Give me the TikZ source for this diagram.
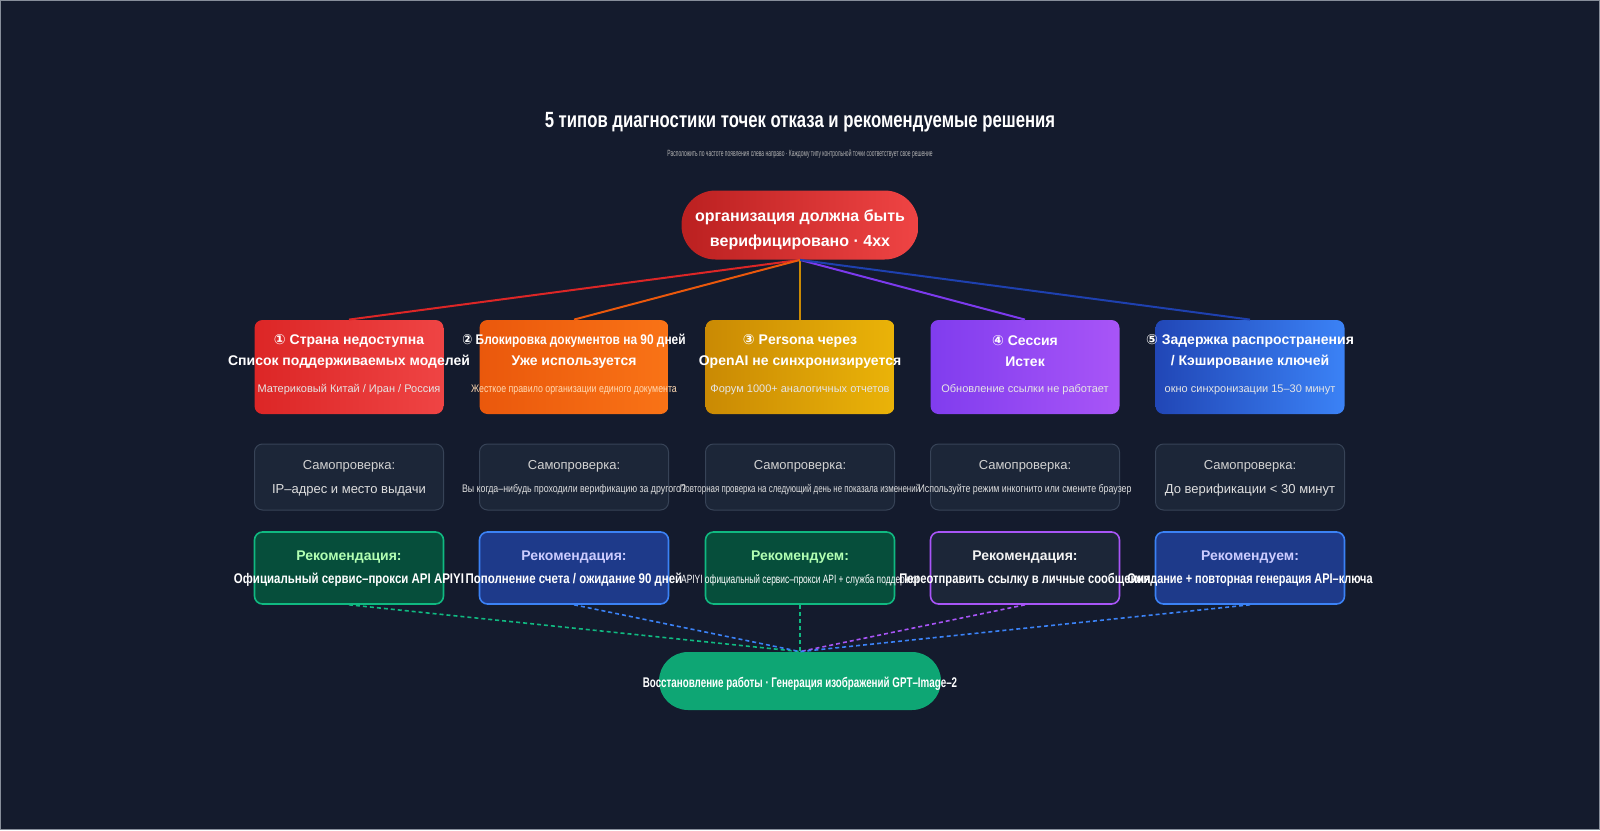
\documentclass[tikz,border=0pt]{standalone}
\usepackage{fontspec}
\setmainfont{Liberation Sans}
\newfontfamily\sym{DejaVu Sans}
\begin{document}
\begin{tikzpicture}[x=0.5pt,y=-0.5pt,
 box/.style={rounded corners=4pt,minimum width=94.5pt,inner sep=0pt,draw=none},
 chk/.style={rounded corners=4pt,minimum width=94.5pt,minimum height=33pt,fill=chkbg,draw=chkbd,line width=0.5pt},
 rec/.style={rounded corners=4pt,minimum width=94.5pt,minimum height=36pt,line width=0.8pt},
 hd/.style={text=white,font=\bfseries\fontsize{7}{8}\selectfont,inner sep=0pt},
 sm/.style={text=white!90!black,font=\fontsize{5.5}{6}\selectfont,inner sep=0pt},
 lab/.style={text=gray!35!white,font=\fontsize{6.5}{7}\selectfont,inner sep=0pt},
 cond/.style={font=\fontsize{5.5}{6}\selectfont,inner sep=0pt},
 ln/.style={line width=1pt},
 dl/.style={line width=0.8pt,dash pattern=on 2pt off 1.5pt}]
\definecolor{bg}{HTML}{141B2D}
\definecolor{chkbg}{HTML}{1C2638}
\definecolor{chkbd}{HTML}{374357}
\definecolor{grn}{HTML}{10B981}
\definecolor{blu}{HTML}{3B82F6}
\definecolor{pur}{HTML}{A855F7}
\definecolor{r1}{HTML}{DC2626}\definecolor{r2}{HTML}{EF4444}
\definecolor{o1}{HTML}{EA580C}\definecolor{o2}{HTML}{F97316}
\definecolor{y1}{HTML}{CA8A04}\definecolor{y2}{HTML}{EAB308}
\definecolor{p1}{HTML}{7C3AED}
\definecolor{b1c}{HTML}{1E40AF}
\definecolor{gf}{HTML}{064E3B}
\definecolor{bf}{HTML}{1E3A8A}
\fill[bg] (0,0) rectangle (1600,830);
\draw[chkbd!60,line width=0.5pt] (0.5,0.5) rectangle (1599.5,829.5);
\useasboundingbox (0,0) rectangle (1600,830);
% title
\node[text=white,font=\bfseries\fontsize{11}{12}\selectfont,inner sep=0pt] (title) at (800,122) {\scalebox{0.76}[1]{5 типов диагностики точек отказа и рекомендуемые решения}};
\node[text=gray!60!white,font=\fontsize{4.5}{5}\selectfont,inner sep=0pt] (sub) at (800,154) {\scalebox{0.55}[1]{Расположить по частоте появления слева направо · Каждому типу контрольной точки соответствует свое решение}};
% root
\node[rounded corners=17pt,minimum width=118.5pt,minimum height=34.5pt,inner sep=0pt,left color=r1!85!black,right color=r2] (root) at (800,225) {};
\node[hd,font=\bfseries\fontsize{8}{9}\selectfont] (ra) at (800,217) {организация должна быть};
\node[hd,font=\bfseries\fontsize{8}{9}\selectfont] (rb2) at (800,242) {верифицировано · 4xx};
% row1 boxes
\node[box,minimum height=47pt,left color=r1,right color=r2] (b1) at (349,367) {};
\node[box,minimum height=47pt,left color=o1,right color=o2] (b2) at (574,367) {};
\node[box,minimum height=47pt,left color=y1,right color=y2] (b3) at (800,367) {};
\node[box,minimum height=47pt,left color=p1!90!pur,right color=pur] (b4) at (1025,367) {};
\node[box,minimum height=47pt,left color=b1c!90!blu,right color=blu] (b5) at (1250,367) {};
% row1 texts
\node[hd] (t11) at (349,341) {{\sym ①} Страна недоступна};
\node[hd] (t12) at (349,362) {Список поддерживаемых моделей};
\node[sm] (t13) at (349,390) {Материковый Китай / Иран / Россия};
\node[hd] (t21) at (574,341) {\scalebox{0.85}[1]{{\sym ②} Блокировка документов на 90 дней}};
\node[hd] (t22) at (574,362) {Уже используется};
\node[sm,text=orange!30!white] (t23) at (574,390) {\scalebox{0.8}[1]{Жесткое правило организации единого документа}};
\node[hd] (t31) at (800,341) {{\sym ③} Persona через};
\node[hd] (t32) at (800,362) {OpenAI не синхронизируется};
\node[sm] (t33) at (800,390) {Форум 1000+ аналогичных отчетов};
\node[hd] (t41) at (1025,341) {{\sym ④} Сессия};
\node[hd] (t42) at (1025,362) {Истек};
\node[sm] (t43) at (1025,390) {Обновление ссылки не работает};
\node[hd] (t51) at (1250,341) {{\sym ⑤} Задержка распространения};
\node[hd] (t52) at (1250,362) {/ Кэширование ключей};
\node[sm] (t53) at (1250,390) {окно синхронизации 15–30 минут};
% row2
\foreach \i/\x in {1/349,2/574,3/800,4/1025,5/1250}{
 \node[chk] (c\i) at (\x,477) {};
 \node[lab] (cl\i) at (\x,466) {Самопроверка:};
}
\node[lab,text=gray!25!white] (ct1) at (349,490) {IP–адрес и место выдачи};
\node[cond,text=gray!25!white] (ct2) at (574,490) {\scalebox{0.8}[1]{Вы когда–нибудь проходили верификацию за другого?}};
\node[cond,text=gray!25!white] (ct3) at (800,490) {\scalebox{0.72}[1]{Повторная проверка на следующий день не показала изменений}};
\node[cond,text=gray!25!white] (ct4) at (1025,490) {\scalebox{0.8}[1]{Используйте режим инкогнито или смените браузер}};
\node[lab,text=gray!25!white] (ct5) at (1250,490) {До верификации < 30 минут};
% row3
\node[rec,fill=gf,draw=grn] (d1) at (349,568) {};
\node[rec,fill=bf,draw=blu] (d2) at (574,568) {};
\node[rec,fill=gf,draw=grn] (d3) at (800,568) {};
\node[rec,fill=chkbg,draw=pur] (d4) at (1025,568) {};
\node[rec,fill=bf,draw=blu] (d5) at (1250,568) {};
\node[hd,text=green!30!white] (dl1) at (349,557) {Рекомендация:};
\node[hd,text=blue!20!white] (dl2) at (574,557) {Рекомендация:};
\node[hd,text=green!30!white] (dl3) at (800,557) {Рекомендуем:};
\node[hd,text=gray!10!white] (dl4) at (1025,557) {Рекомендация:};
\node[hd,text=blue!20!white] (dl5) at (1250,557) {Рекомендуем:};
\node[hd] (dt1) at (349,580) {\scalebox{0.82}[1]{Официальный сервис–прокси API APIYI}};
\node[hd] (dt2) at (574,580) {\scalebox{0.82}[1]{Пополнение счета / ожидание 90 дней}};
\node[hd,font=\fontsize{6}{7}\selectfont] (dt3) at (800,580) {\scalebox{0.7}[1]{APIYI официальный сервис–прокси API + служба поддержки}};
\node[hd] (dt4) at (1025,580) {\scalebox{0.8}[1]{Переотправить ссылку в личные сообщения}};
\node[hd] (dt5) at (1250,580) {\scalebox{0.78}[1]{Ожидание + повторная генерация API–ключа}};
% bottom
\node[rounded corners=14.5pt,minimum width=141pt,minimum height=29pt,inner sep=0pt,fill=grn!90!black] (fin) at (800,681) {};
\node[hd] (fint) at (800,684) {\scalebox{0.7}[1]{Восстановление работы · Генерация изображений GPT–Image–2}};
% connectors
\coordinate (rb) at (root.south);
\draw[ln,r1] (rb) -- (b1.north);
\draw[ln,o1] (rb) -- (b2.north);
\draw[ln,y1] (rb) -- (b3.north);
\draw[ln,p1] (rb) -- (b4.north);
\draw[ln,b1c] (rb) -- (b5.north);
\coordinate (ft) at (fin.north);
\draw[dl,grn] (d1.south) -- (ft);
\draw[dl,blu] (d2.south) -- (ft);
\draw[dl,grn] (d3.south) -- (ft);
\draw[dl,pur] (d4.south) -- (ft);
\draw[dl,blu] (d5.south) -- (ft);
\end{tikzpicture}
\end{document}
